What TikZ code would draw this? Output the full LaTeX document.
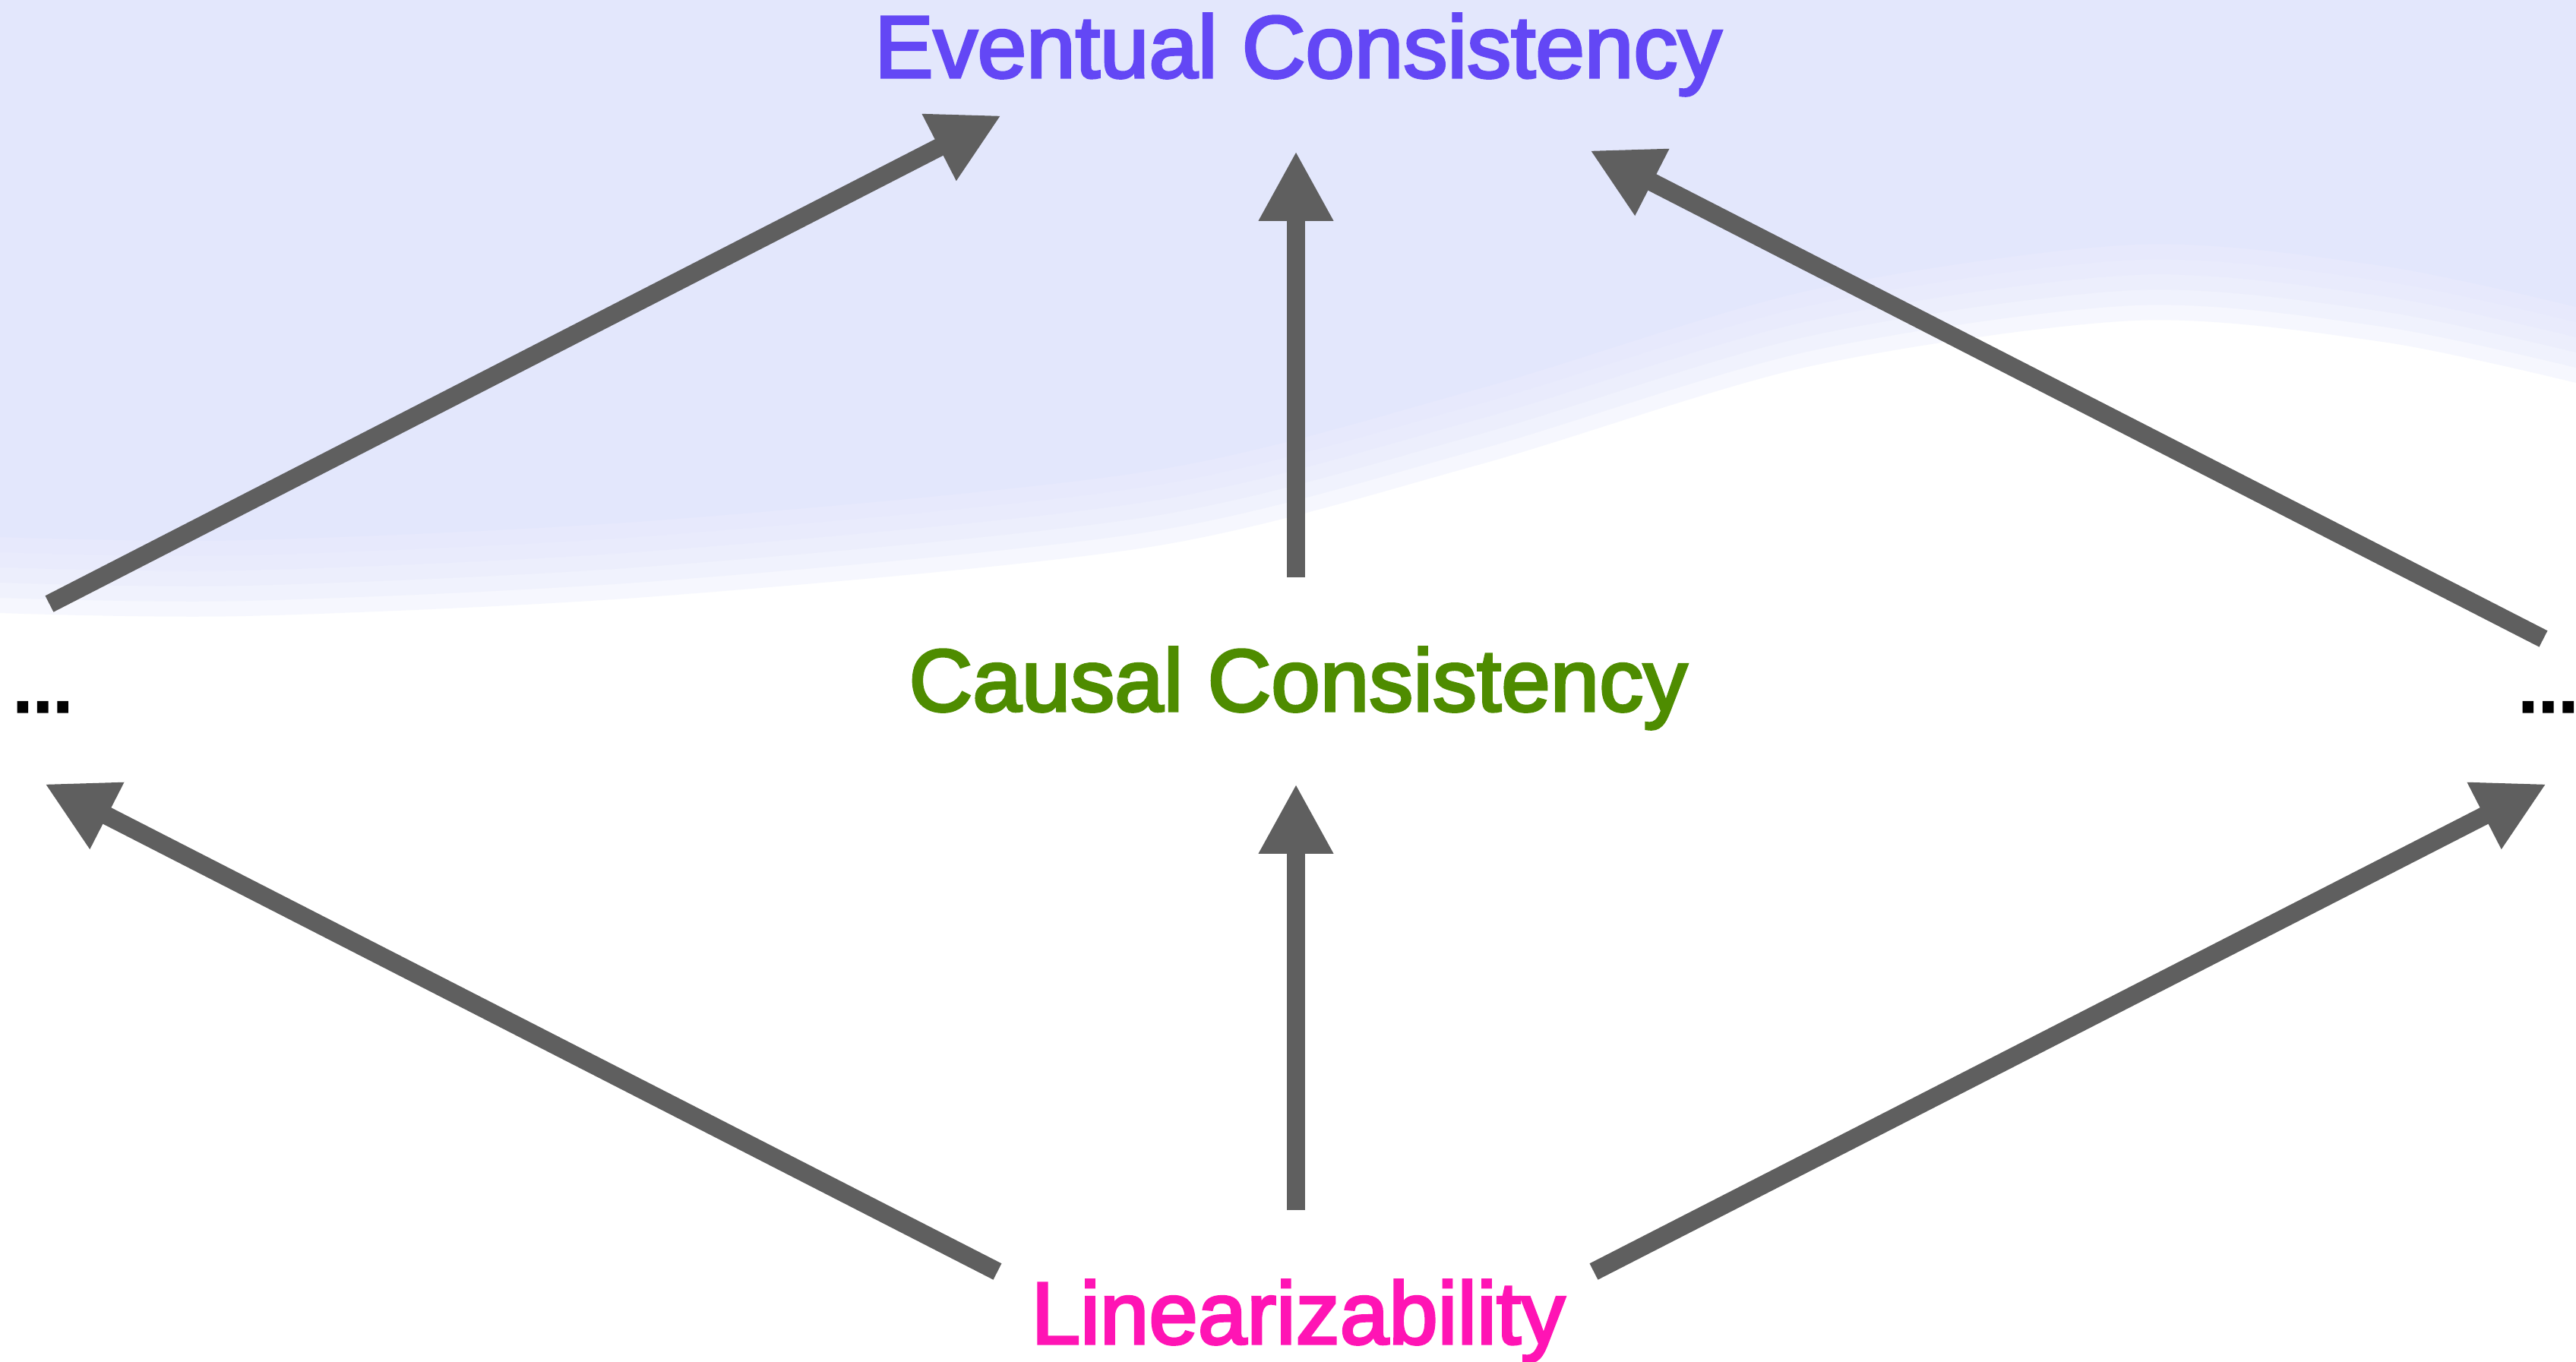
\documentclass[tikz,border=0pt]{standalone}
\usepackage{fontspec}
\setmainfont{Liberation Sans}
\newfontfamily\lblfont{Liberation Sans}[FakeBold=3]
\usepackage{xcolor}
\usepackage{tikz}
\usetikzlibrary{positioning,arrows.meta}
\definecolor{evblue}{RGB}{99,71,245}
\definecolor{cagreen}{RGB}{78,140,0}
\definecolor{limagenta}{RGB}{255,20,180}
\definecolor{arrgray}{RGB}{95,95,95}
\definecolor{bglav}{RGB}{227,231,252}
\tikzset{
  lbl/.style={font=\lblfont\fontsize{33}{40}\selectfont, inner sep=0pt, anchor=base},
  arr/.style={-{Triangle[length=9.2mm,width=9.2mm]}, line width=2.4mm, draw=arrgray},
}
\newcommand{\skyedge}{(0,10.35) (3.24,10.31) (8.65,10.57) (15.14,11.22) (19.46,12.30)
  (23.79,13.59) (28.11,14.20) (31.36,13.92) (33.91,13.38)}
\begin{document}
\begin{tikzpicture}
    \useasboundingbox (0,0) rectangle (33.91,17.92);
    \fill[white] (0,0) rectangle (33.91,17.92);
    % soft lavender sky
    \foreach \d in {-0.5,-0.3,-0.1,0.1,0.3}
      \fill[bglav, opacity=0.3, yshift=\d cm] (0,20) -- plot[smooth] coordinates {\skyedge} -- (33.91,20) -- cycle;
    \fill[bglav, yshift=0.5cm] (0,20) -- plot[smooth] coordinates {\skyedge} -- (33.91,20) -- cycle;
    \node[lbl, text=evblue] (ev) at (17.09,16.90) {Eventual Consistency};
    \node[lbl, text=cagreen] (ca) at (17.09,8.56) {Causal Consistency};
    \node[lbl, text=limagenta] (li) at (17.09,0.23) {Linearizability};
    \node[lbl, anchor=base west] (dl) at (0.13,8.55) {.\kern-0.05em.\kern-0.05em.};
    \node[lbl, anchor=base west] (dr) at (33.11,8.55) {.\kern-0.05em.\kern-0.05em.};
    \draw[arr] ([xshift=0.52cm,yshift=1.42cm]dl.base west) -- ([xshift=-3.91cm,yshift=-0.50cm]ev.base);
    \draw[arr] ([xshift=-0.03cm,yshift=1.76cm]ca.base) -- ([xshift=-0.03cm,yshift=-0.97cm]ev.base);
    \draw[arr] ([xshift=0.37cm,yshift=0.96cm]dr.base west) -- ([xshift=3.84cm,yshift=-0.96cm]ev.base);
    \draw[arr] ([xshift=-3.96cm,yshift=0.95cm]li.base) -- ([xshift=0.46cm,yshift=-0.95cm]dl.base west);
    \draw[arr] ([xshift=-0.03cm,yshift=1.76cm]li.base) -- ([xshift=-0.03cm,yshift=-0.96cm]ca.base);
    \draw[arr] ([xshift=3.89cm,yshift=0.95cm]li.base) -- ([xshift=0.41cm,yshift=-0.95cm]dr.base west);
  \end{tikzpicture}
\end{document}
